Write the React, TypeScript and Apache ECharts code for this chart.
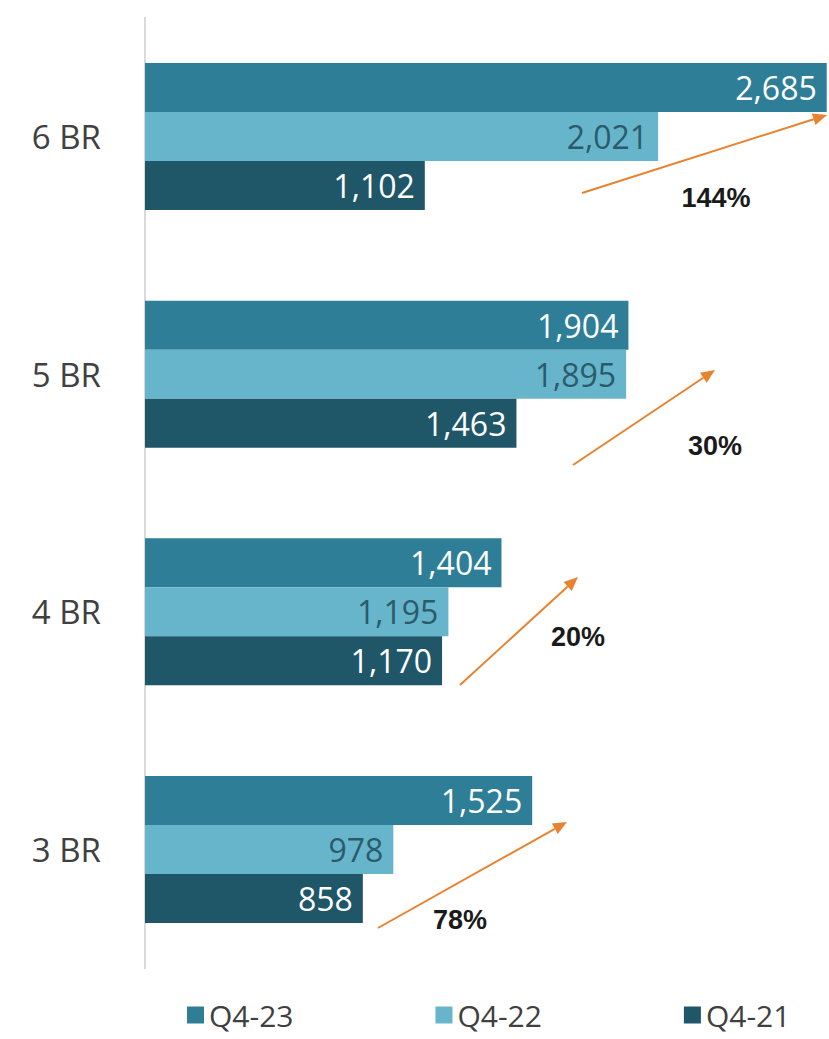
import React, { useEffect, useRef } from 'react';
import * as echarts from 'echarts';

const categories = ['3 BR', '4 BR', '5 BR', '6 BR'];
const seriesNames = ['Q4-23', 'Q4-22', 'Q4-21'];
const q423 = [1525, 1404, 1904, 2685];
const q422 = [978, 1195, 1895, 2021];
const q421 = [858, 1170, 1463, 1102];
const growthLabels = ['78%', '20%', '30%', '144%'];

const COLORS: Record<string, string> = {
  'Q4-23': '#2E7E98',
  'Q4-22': '#66B5CB',
  'Q4-21': '#1F5668',
};
const LABEL_COLORS: Record<string, string> = {
  'Q4-23': '#ffffff',
  'Q4-22': '#2b5b6b',
  'Q4-21': '#ffffff',
};

// annotation geometry (pixels): [startX, startY, tipX, tipY, labelX, labelY]
const arrowGeom = [
  [378, 928, 567, 822, 460, 920],
  [460, 685, 578, 577, 578, 637],
  [573, 465, 715, 370, 715, 446],
  [582, 193, 827, 115, 716, 198],
];

const ORANGE = '#E8822E';

function arrow(x1: number, y1: number, x2: number, y2: number) {
  const dx = x2 - x1;
  const dy = y2 - y1;
  const len = Math.sqrt(dx * dx + dy * dy);
  const ux = dx / len;
  const uy = dy / len;
  const headLen = 14;
  const headW = 6;
  const bx = x2 - ux * headLen;
  const by = y2 - uy * headLen;
  const px = -uy;
  const py = ux;
  return [
    {
      type: 'line',
      z: 100,
      shape: { x1, y1, x2: bx, y2: by },
      style: { stroke: ORANGE, lineWidth: 2 },
    },
    {
      type: 'polygon',
      z: 100,
      shape: {
        points: [
          [x2, y2],
          [bx + px * headW, by + py * headW],
          [bx - px * headW, by - py * headW],
        ],
      },
      style: { fill: ORANGE },
    },
  ];
}

export default function App() {
  const ref = useRef<HTMLDivElement>(null);
  useEffect(() => {
    document.body.style.margin = '0';
    if (!ref.current) return;
    const chart = echarts.init(ref.current, undefined, { renderer: 'svg' });
    const dataMap: Record<string, number[]> = {
      'Q4-23': q423,
      'Q4-22': q422,
      'Q4-21': q421,
    };
    const graphics: any[] = [];
    arrowGeom.forEach((g, i) => {
      graphics.push(...arrow(g[0], g[1], g[2], g[3]));
      graphics.push({
        type: 'text',
        z: 100,
        x: g[4],
        y: g[5],
        style: {
          text: growthLabels[i],
          fill: '#1a1a1a',
          font: 'bold 27px "Liberation Sans", Arial, sans-serif',
          align: 'center',
          verticalAlign: 'middle',
        },
      });
    });
    chart.setOption({
      animation: false,
      grid: { left: 145, right: 1, top: 17.7, bottom: 70.7, containLabel: false },
      legend: {
        data: seriesNames,
        left: 187,
        top: 1000,
        padding: 0,
        itemWidth: 17,
        itemHeight: 17,
        itemGap: 142,
        icon: 'rect',
        textStyle: { fontSize: 30, lineHeight: 30, color: '#404040', fontFamily: '"Open Sans", sans-serif' },
      },
      xAxis: {
        type: 'value',
        min: 0,
        max: 2690,
        show: false,
      },
      yAxis: {
        type: 'category',
        data: categories,
        axisLine: { show: true, lineStyle: { color: '#d9d9d9', width: 2 } },
        axisTick: { show: false },
        axisLabel: {
          fontSize: 33,
          color: '#404040',
          margin: 44,
          fontFamily: '"Open Sans", sans-serif',
        },
      },
      series: seriesNames.map((name) => ({
        name,
        type: 'bar',
        data: dataMap[name],
        barWidth: 49,
        barGap: '0%',
        itemStyle: { color: COLORS[name] },
        label: {
          show: true,
          position: 'insideRight',
          distance: 10,
          color: LABEL_COLORS[name],
          fontSize: 32,
          fontFamily: '"Open Sans", sans-serif',
          formatter: (p: any) => Number(p.value).toLocaleString('en-US'),
        },
      })),
      graphic: graphics,
    });
    return () => chart.dispose();
  }, []);
  return <div ref={ref} style={{ width: 829, height: 1039 }} />;
}
